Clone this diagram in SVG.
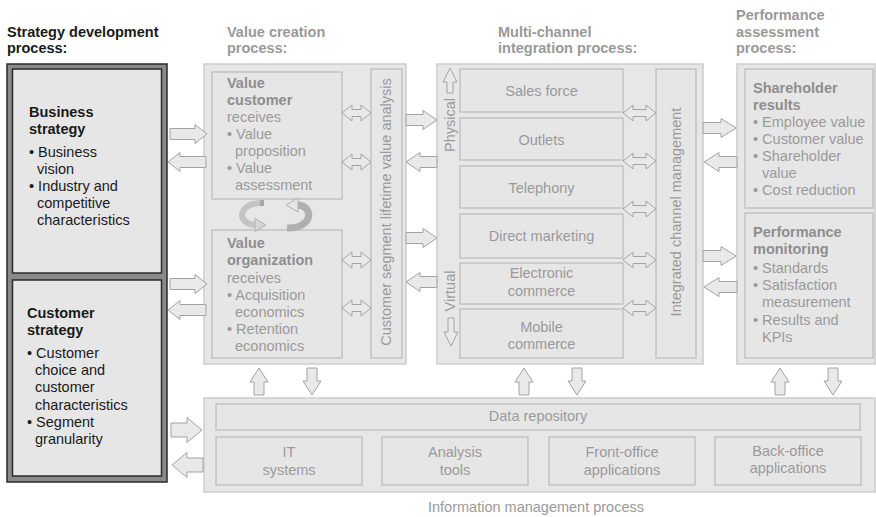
<svg xmlns="http://www.w3.org/2000/svg" width="876" height="517" viewBox="0 0 876 517">
<style>
text{font-family:"Liberation Sans",Arial,Helvetica,sans-serif;font-size:14.5px;fill:#9a9a9a}
.hd{font-weight:bold;fill:#999}
.hdk{font-weight:bold;fill:#1a1a1a}
.dk{fill:#1a1a1a}
.b{font-weight:bold;fill:#8e8e8e}
.bk{font-weight:bold;fill:#1a1a1a}
.c{text-anchor:middle}
.outer{fill:#e7e7e7;stroke:#cdcdcd;stroke-width:1.5}
.box{fill:#e6e6e6;stroke:#c2c2c2;stroke-width:1.5}
.arr{fill:#e9e9e9;stroke:#a3a3a3;stroke-width:1}
</style>
<rect width="876" height="517" fill="#ffffff"/>

<g id="headers">
<text class="hdk" x="7" y="37">Strategy development</text>
<text class="hdk" x="7" y="53">process:</text>
<text class="hd" x="227" y="37">Value creation</text>
<text class="hd" x="227" y="53">process:</text>
<text class="hd" x="498" y="37">Multi-channel</text>
<text class="hd" x="498" y="53">integration process:</text>
<text class="hd" x="736" y="20">Performance</text>
<text class="hd" x="736" y="37">assessment</text>
<text class="hd" x="736" y="53">process:</text>
</g>

<g id="strategy">
<rect x="7" y="64" width="160" height="418" fill="#8a8a8a" stroke="#2a2a2a" stroke-width="1.5"/>
<g id="business-strategy">
<rect x="12.5" y="69" width="149" height="204" fill="#e6e6e6" stroke="#2a2a2a" stroke-width="1.5"/>
<text class="bk" x="29" y="117">Business</text>
<text class="bk" x="29" y="134">strategy</text>
<text class="dk" x="29" y="157">• Business</text>
<text class="dk" x="37" y="174">vision</text>
<text class="dk" x="29" y="191">• Industry and</text>
<text class="dk" x="37" y="208">competitive</text>
<text class="dk" x="37" y="225">characteristics</text>
</g>
<g id="customer-strategy">
<rect x="12.5" y="280" width="149" height="196" fill="#e6e6e6" stroke="#2a2a2a" stroke-width="1.5"/>
<text class="bk" x="27" y="318">Customer</text>
<text class="bk" x="27" y="335">strategy</text>
<text class="dk" x="27" y="358">• Customer</text>
<text class="dk" x="35" y="375">choice and</text>
<text class="dk" x="35" y="392">customer</text>
<text class="dk" x="35" y="410">characteristics</text>
<text class="dk" x="27" y="427">• Segment</text>
<text class="dk" x="35" y="444">granularity</text>
</g>
</g>

<g id="value-creation">
<rect class="outer" x="204" y="64" width="202" height="300"/>
<g id="value-customer">
<rect class="box" x="212" y="72" width="130" height="127"/>
<text class="b" x="227" y="88">Value</text>
<text class="b" x="227" y="105">customer</text>
<text x="227" y="122">receives</text>
<text x="227" y="139">• Value</text>
<text x="235" y="156">proposition</text>
<text x="227" y="173">• Value</text>
<text x="235" y="190">assessment</text>
</g>
<g id="value-organization">
<rect class="box" x="212" y="230" width="130" height="128"/>
<text class="b" x="227" y="248">Value</text>
<text class="b" x="227" y="265">organization</text>
<text x="227" y="283">receives</text>
<text x="227" y="300">• Acquisition</text>
<text x="235" y="317">economics</text>
<text x="227" y="334">• Retention</text>
<text x="235" y="351">economics</text>
</g>
<g id="clv-analysis">
<rect class="box" x="371" y="69" width="31" height="289"/>
<text class="c" transform="translate(391,212) rotate(-90)">Customer segment lifetime value analysis</text>
</g>
<g id="cycle">
<path d="M263 203 C238 202 235 224 256 225" fill="none" stroke="#c4c4c4" stroke-width="6"/>
<path d="M262 200 L262 206" stroke="#a9a9a9" stroke-width="4"/>
<path d="M255 218.5 L266 225 L255 231.5 Z" fill="#d6d6d6" stroke="#b0b0b0" stroke-width="1"/>
<path d="M287 228 C314 229 314 205 297 205" fill="none" stroke="#b0b0b0" stroke-width="7"/>
<path d="M298 198 L286 205 L298 212 Z" fill="#e6e6e6" stroke="#b0b0b0" stroke-width="1"/>
</g>
</g>

<g id="multi-channel">
<rect class="outer" x="437" y="64" width="266" height="300"/>
<path class="arr" d="M450 68 L457 82 H453 V93 H447 V82 H443 Z"/>
<text transform="translate(455,125) rotate(-90)" class="c">Physical</text>
<text transform="translate(455,291) rotate(-90)" class="c">Virtual</text>
<path class="arr" d="M451 346 L458 332 H454 V318 H448 V332 H444 Z"/>
<g id="sales-force"><rect class="box" x="460" y="69" width="163" height="43"/><text class="c" x="541.5" y="96">Sales force</text></g>
<g id="outlets"><rect class="box" x="460" y="118" width="163" height="42"/><text class="c" x="541.5" y="145">Outlets</text></g>
<g id="telephony"><rect class="box" x="460" y="166" width="163" height="42"/><text class="c" x="541.5" y="193">Telephony</text></g>
<g id="direct-marketing"><rect class="box" x="460" y="214" width="163" height="44"/><text class="c" x="541.5" y="241">Direct marketing</text></g>
<g id="e-commerce"><rect class="box" x="460" y="263" width="163" height="41"/><text class="c" x="541.5" y="278">Electronic</text><text class="c" x="541.5" y="296">commerce</text></g>
<g id="m-commerce"><rect class="box" x="460" y="309" width="163" height="49"/><text class="c" x="541.5" y="332">Mobile</text><text class="c" x="541.5" y="349">commerce</text></g>
<g id="icm"><rect class="box" x="656" y="69" width="40" height="289"/><text class="c" transform="translate(681,212) rotate(-90)">Integrated channel management</text></g>
</g>

<g id="performance">
<rect class="outer" x="737" y="64" width="138" height="300"/>
<g id="shareholder-results">
<rect class="box" x="745" y="69" width="128" height="139"/>
<text class="b" x="753" y="93">Shareholder</text>
<text class="b" x="753" y="110">results</text>
<text x="753" y="127">• Employee value</text>
<text x="753" y="144">• Customer value</text>
<text x="753" y="161">• Shareholder</text>
<text x="762" y="178">value</text>
<text x="753" y="195">• Cost reduction</text>
</g>
<g id="performance-monitoring">
<rect class="box" x="745" y="213" width="128" height="145"/>
<text class="b" x="753" y="237">Performance</text>
<text class="b" x="753" y="254">monitoring</text>
<text x="753" y="273">• Standards</text>
<text x="753" y="290">• Satisfaction</text>
<text x="762" y="307">measurement</text>
<text x="753" y="325">• Results and</text>
<text x="762" y="342">KPIs</text>
</g>
</g>

<g id="information-management">
<rect class="outer" x="204" y="398" width="671" height="94"/>
<g id="data-repository"><rect class="box" x="216" y="404" width="644" height="26"/><text class="c" x="538" y="421">Data repository</text></g>
<g id="it-systems"><rect class="box" x="216" y="437" width="146" height="48"/><text class="c" x="289" y="457">IT</text><text class="c" x="289" y="475">systems</text></g>
<g id="analysis-tools"><rect class="box" x="382" y="437" width="146" height="48"/><text class="c" x="455" y="457">Analysis</text><text class="c" x="455" y="475">tools</text></g>
<g id="front-office"><rect class="box" x="549" y="437" width="146" height="48"/><text class="c" x="622" y="457">Front-office</text><text class="c" x="622" y="475">applications</text></g>
<g id="back-office"><rect class="box" x="715" y="437" width="146" height="48"/><text class="c" x="788" y="456">Back-office</text><text class="c" x="788" y="473">applications</text></g>
<text class="c" x="536" y="512">Information management process</text>
</g>

<g id="connectors">
<path class="arr" d="M170 128.5 H195 V124.5 L207 134 L195 143.5 V139.5 H170 Z"/>
<path class="arr" d="M206 156.5 H180 V152.5 L168 162 L180 171.5 V167.5 H206 Z"/>
<path class="arr" d="M170 278.5 H195 V274.5 L207 284 L195 293.5 V289.5 H170 Z"/>
<path class="arr" d="M206 304.5 H180 V300.5 L168 310 L180 319.5 V315.5 H206 Z"/>
<path class="arr" d="M171 423 H187 V417.5 L202 430 L187 442.5 V437 H171 Z"/>
<path class="arr" d="M203 458 H187 V452.5 L172 465 L187 477.5 V472 H203 Z"/>

<path class="arr" d="M406 114.5 H423 V110.5 L437 120 L423 129.5 V125.5 H406 Z"/>
<path class="arr" d="M437 156.5 H420 V152.5 L406 162 L420 171.5 V167.5 H437 Z"/>
<path class="arr" d="M406 232.5 H423 V228.5 L437 238 L423 247.5 V243.5 H406 Z"/>
<path class="arr" d="M437 276.5 H420 V272.5 L406 282 L420 291.5 V287.5 H437 Z"/>

<path class="arr" d="M703 122.5 H721 V118.5 L736 128 L721 137.5 V133.5 H703 Z"/>
<path class="arr" d="M737 156.5 H719 V152.5 L704 162 L719 171.5 V167.5 H737 Z"/>
<path class="arr" d="M703 250.5 H721 V246.5 L736 256 L721 265.5 V261.5 H703 Z"/>
<path class="arr" d="M737 281.5 H719 V277.5 L704 287 L719 296.5 V292.5 H737 Z"/>

<path class="arr" d="M342 113 L352 105 V109.5 H361 V105 L371 113 L361 121 V116.5 H352 V121 Z"/>
<path class="arr" d="M342 162 L352 154 V158.5 H361 V154 L371 162 L361 170 V165.5 H352 V170 Z"/>
<path class="arr" d="M342 260 L352 252 V256.5 H361 V252 L371 260 L361 268 V263.5 H352 V268 Z"/>
<path class="arr" d="M342 308 L352 300 V304.5 H361 V300 L371 308 L361 316 V311.5 H352 V316 Z"/>

<path class="arr" d="M623 113 L633 105 V109.5 H646 V105 L656 113 L646 121 V116.5 H633 V121 Z"/>
<path class="arr" d="M623 161 L633 153 V157.5 H646 V153 L656 161 L646 169 V164.5 H633 V169 Z"/>
<path class="arr" d="M623 209 L633 201 V205.5 H646 V201 L656 209 L646 217 V212.5 H633 V217 Z"/>
<path class="arr" d="M623 260 L633 252 V256.5 H646 V252 L656 260 L646 268 V263.5 H633 V268 Z"/>
<path class="arr" d="M623 308 L633 300 V304.5 H646 V300 L656 308 L646 316 V311.5 H633 V316 Z"/>

<path class="arr" d="M259 368 L268 382 H264 V395 H254 V382 H250 Z"/>
<path class="arr" d="M312 395 L321 381 H317 V368 H307 V381 H303 Z"/>
<path class="arr" d="M524 368 L533 382 H529 V395 H519 V382 H515 Z"/>
<path class="arr" d="M577 395 L586 381 H582 V368 H572 V381 H568 Z"/>
<path class="arr" d="M780 368 L789 382 H785 V395 H775 V382 H771 Z"/>
<path class="arr" d="M833 395 L842 381 H838 V368 H828 V381 H824 Z"/>
</g>
</svg>
